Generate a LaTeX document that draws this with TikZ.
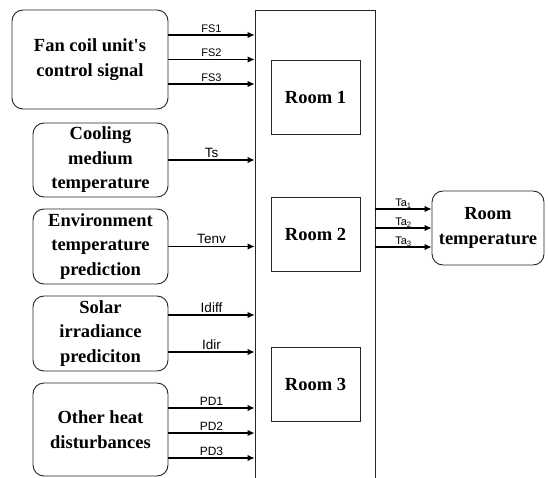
\documentclass[tikz,border=0pt]{standalone}
\usepackage{fontspec}
\setmainfont{Liberation Serif}
\newfontfamily\labfont{Liberation Sans}
\usetikzlibrary{arrows.meta,calc}
\begin{document}
\begin{tikzpicture}[x=1pt,y=-1pt,
  inbox/.style={draw=black!85,line width=0.9pt,rounded corners=11pt,align=center,
    font=\fontsize{18.5}{24.5}\selectfont\bfseries,inner sep=0pt},
  roombox/.style={draw=black!85,line width=0.9pt,minimum width=89pt,minimum height=74pt,
    font=\fontsize{18.5}{20}\selectfont\bfseries,inner sep=0pt},
  arr/.style={line width=1.1pt,-{Latex[length=7pt,width=6.5pt]}},
  lab/.style={above,inner sep=2pt,midway},
  labS/.style={lab,font=\labfont\fontsize{11}{12}\selectfont},
  labM/.style={lab,font=\labfont\fontsize{13.5}{14}\selectfont},
  labP/.style={lab,font=\labfont\fontsize{12}{13}\selectfont},
  labT/.style={lab,inner sep=0.3pt,font=\labfont\fontsize{11}{12}\selectfont}]
\useasboundingbox (0,0) rectangle (548,478);
\clip (0,0) rectangle (548,478);
\fill[white] (0,0) rectangle (548,478);
% system block (open at bottom)
\node[draw=black!85,line width=0.9pt,minimum width=120pt,minimum height=490pt,inner sep=0pt] (sys) at (315,255) {};
\node[roombox] (r1) at (315.5,97) {Room 1};
\node[roombox] (r2) at (315.5,234.5) {Room 2};
\node[roombox] (r3) at (315.5,384) {Room 3};
% input boxes
\node[inbox,minimum width=156pt,minimum height=99pt] (f) at (90,59.5) {Fan coil unit\textquotesingle s\\control signal};
\node[inbox,minimum width=135pt,minimum height=74pt] (c) at (100.5,160) {Cooling\\medium\\temperature};
\node[inbox,minimum width=135pt,minimum height=75pt] (e) at (100.5,246.5) {Environment\\temperature\\prediction};
\node[inbox,minimum width=135pt,minimum height=75pt] (s) at (100.5,333.5) {Solar\\irradiance\\prediciton};
\node[inbox,minimum width=135pt,minimum height=93pt] (o) at (100.5,429.5) {Other heat\\disturbances};
\node[inbox,minimum width=112pt,minimum height=74pt] (rt) at (488,228) {Room\\temperature};
% arrow start points
\coordinate (fs1) at ([yshift=24.5pt]f.east);
\coordinate (fs2) at (f.east);
\coordinate (fs3) at ([yshift=-24.5pt]f.east);
\coordinate (id1) at ([yshift=18.5pt]s.east);
\coordinate (id2) at ([yshift=-18.5pt]s.east);
\coordinate (pd1) at ([yshift=21.5pt]o.east);
\coordinate (pd2) at ([yshift=-3.5pt]o.east);
\coordinate (pd3) at ([yshift=-28.5pt]o.east);
\coordinate (rw1) at ([yshift=19pt]rt.west);
\coordinate (rw3) at ([yshift=-19pt]rt.west);
\coordinate (ta1) at (sys.east |- rw1);
\coordinate (ta2) at (sys.east |- rt.west);
\coordinate (ta3) at (sys.east |- rw3);
% arrows
\draw[arr] (fs1) -- (fs1 -| sys.west) node[labS]{FS1};
\draw[arr] (fs2) -- (fs2 -| sys.west) node[labS]{FS2};
\draw[arr] (fs3) -- (fs3 -| sys.west) node[labS]{FS3};
\draw[arr] (c.east) -- (c.east -| sys.west) node[labM]{Ts};
\draw[arr] (e.east) -- (e.east -| sys.west) node[labM]{Tenv};
\draw[arr] (id1) -- (id1 -| sys.west) node[labM]{Idiff};
\draw[arr] (id2) -- (id2 -| sys.west) node[labM]{Idir};
\draw[arr] (pd1) -- (pd1 -| sys.west) node[labP]{PD1};
\draw[arr] (pd2) -- (pd2 -| sys.west) node[labP]{PD2};
\draw[arr] (pd3) -- (pd3 -| sys.west) node[labP]{PD3};
\draw[arr] (ta1) -- (rw1) node[labT]{Ta\textsubscript{1}};
\draw[arr] (ta2) -- (rt.west) node[labT]{Ta\textsubscript{2}};
\draw[arr] (ta3) -- (rw3) node[labT]{Ta\textsubscript{3}};
\end{tikzpicture}
\end{document}
